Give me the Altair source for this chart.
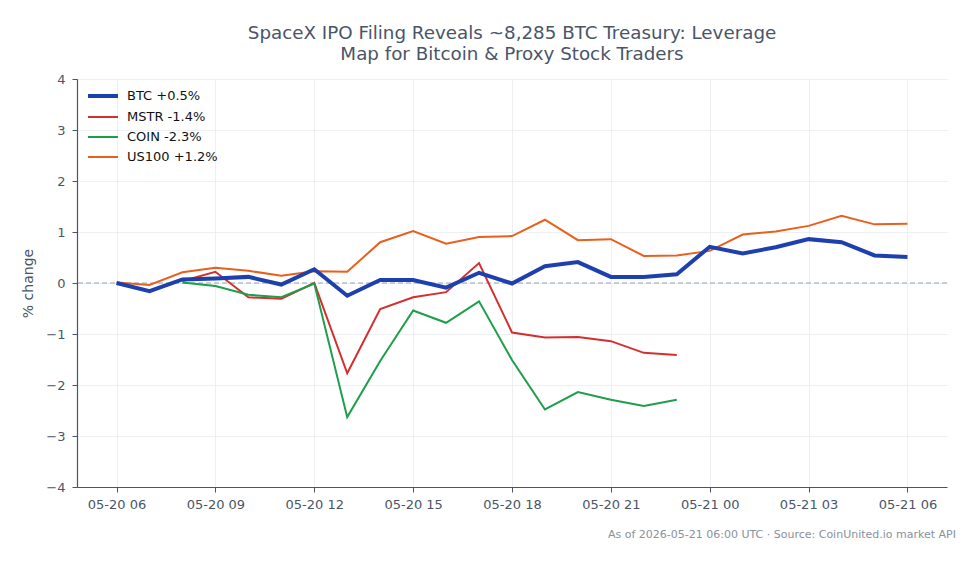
import altair as alt
import pandas as pd

hours_full = [f"2026-05-20T{h:02d}:00:00Z" for h in range(6, 24)] + [f"2026-05-21T{h:02d}:00:00Z" for h in range(0, 7)]
hours_stock = [f"2026-05-20T{h:02d}:00:00Z" for h in range(8, 24)]

btc = [0.0, -0.16, 0.07, 0.09, 0.12, -0.03, 0.27, -0.25, 0.06, 0.06, -0.09, 0.2, -0.01,
       0.33, 0.41, 0.12, 0.12, 0.17, 0.71, 0.58, 0.7, 0.86, 0.8, 0.54, 0.51]
us100 = [0.01, -0.04, 0.21, 0.3, 0.24, 0.14, 0.23, 0.22, 0.8, 1.02, 0.77, 0.9, 0.92,
         1.24, 0.84, 0.86, 0.53, 0.54, 0.63, 0.95, 1.01, 1.12, 1.32, 1.15, 1.16]
mstr = [0.04, 0.22, -0.28, -0.31, 0.0, -1.77, -0.51, -0.28, -0.18, 0.39, -0.97, -1.07,
        -1.06, -1.14, -1.37, -1.41]
coin = [0.01, -0.06, -0.23, -0.28, -0.01, -2.63, -1.53, -0.54, -0.78, -0.36, -1.51, -2.48,
        -2.14, -2.29, -2.41, -2.29]

series_names = ["BTC +0.5%", "MSTR -1.4%", "COIN -2.3%", "US100 +1.2%"]
series_colors = ["#1e40af", "#d32f2f", "#1e9e4a", "#e8601c"]
series_widths = [4, 2, 2, 2]

rows = []
for name, xs, ys in [(series_names[1], hours_stock, mstr),
                     (series_names[2], hours_stock, coin),
                     (series_names[3], hours_full, us100),
                     (series_names[0], hours_full, btc)]:
    for t, v in zip(xs, ys):
        rows.append({"time": t, "value": v, "series": name})
df = pd.DataFrame(rows)

tick_values = [alt.DateTime(year=2026, month=5, date=20 + (h // 24), hours=h % 24, utc=True)
               for h in range(6, 31, 3)]

text_color = "#4a5568"

x_enc = alt.X("time:T",
              scale=alt.Scale(type="utc",
                              domain=[alt.DateTime(year=2026, month=5, date=20, hours=4, minutes=48, utc=True),
                                      alt.DateTime(year=2026, month=5, date=21, hours=7, minutes=12, utc=True)]),
              axis=alt.Axis(title=None, format="%m-%d %H", values=tick_values,
                            labelFontSize=13, labelColor=text_color, domainColor=text_color,
                            tickColor=text_color, tickSize=5, labelPadding=6,
                            gridColor="#e8ebf0", domainWidth=1.2))
y_enc = alt.Y("value:Q",
              scale=alt.Scale(domain=[-4, 4], nice=False),
              axis=alt.Axis(title="% change", values=[-4, -3, -2, -1, 0, 1, 2, 3, 4],
                            labelFontSize=13, labelColor=text_color, domainColor=text_color,
                            tickColor=text_color, tickSize=5, labelPadding=7,
                            titleFontSize=14, titleFontWeight="normal", titleColor=text_color,
                            titlePadding=10, gridColor="#e8ebf0", domainWidth=1.2))

zero = alt.Chart(pd.DataFrame({"y": [0]})).mark_rule(
    color="#94a3b8", strokeDash=[5, 3], strokeWidth=1.2).encode(y="y:Q")

legend_cfg = dict(title=None, orient="none", legendX=14, legendY=5,
                  symbolType="M-1.5,0L1.5,0", symbolSize=400,
                  labelFontSize=13, labelColor="#111111",
                  rowPadding=2, labelOffset=12)

lines = alt.Chart(df).mark_line(interpolate="linear").encode(
    x=x_enc,
    y=y_enc,
    color=alt.Color("series:N",
                    scale=alt.Scale(domain=series_names, range=series_colors),
                    legend=alt.Legend(**legend_cfg)),
    strokeWidth=alt.StrokeWidth("series:N",
                                scale=alt.Scale(type="ordinal", domain=series_names, range=series_widths),
                                legend=alt.Legend(**legend_cfg)),
)

footer = alt.Chart(pd.DataFrame({"t": ["As of 2026-05-21 06:00 UTC \u00b7 Source: CoinUnited.io market API"]})).mark_text(
    align="right", baseline="middle", fontSize=11, color="#8a919c", font="DejaVu Sans"
).encode(x=alt.value(879), y=alt.value(456), text="t:N")

chart = alt.layer(zero, lines, footer).properties(
    width=870, height=408,
    title=alt.TitleParams(
        text=["SpaceX IPO Filing Reveals ~8,285 BTC Treasury: Leverage",
              "Map for Bitcoin & Proxy Stock Traders"],
        fontSize=18.3, fontWeight="normal", color=text_color, anchor="middle",
        font="DejaVu Sans", lineHeight=21, offset=9),
    autosize=alt.AutoSizeParams(type="none"),
    padding={"left": 77, "top": 79, "right": 32, "bottom": 77},
).configure(font="DejaVu Sans").configure_view(stroke=None).configure_axis(gridWidth=0.8)

chart.save("out.html", embed_options={"renderer": "svg", "actions": False})
